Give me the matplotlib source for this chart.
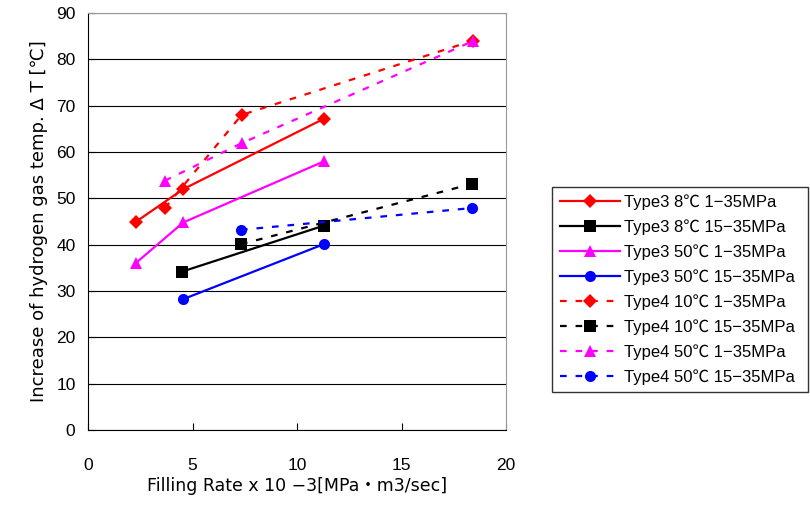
import matplotlib
matplotlib.use("Agg")
import matplotlib.pyplot as plt

plt.rcParams["font.family"] = ["Liberation Sans", "Noto Sans CJK JP", "DejaVu Sans"]

# Type3 series
t3_8_1_x = [2.28, 4.56, 11.3]
t3_8_1_y = [44.9, 52.0, 67.2]
t3_8_15_x = [4.51, 11.28]
t3_8_15_y = [34.2, 44.1]
t3_50_1_x = [2.28, 4.56, 11.3]
t3_50_1_y = [36.0, 44.8, 58.0]
t3_50_15_x = [4.53, 11.28]
t3_50_15_y = [28.2, 40.1]

# Type4 series
t4_10_1_x = [3.68, 7.35, 18.4]
t4_10_1_y = [47.9, 68.0, 84.0]
t4_10_15_x = [7.32, 18.36]
t4_10_15_y = [40.1, 53.1]
t4_50_1_x = [3.68, 7.35, 18.4]
t4_50_1_y = [53.8, 61.9, 83.9]
t4_50_15_x = [7.32, 18.36]
t4_50_15_y = [43.2, 47.9]

fig = plt.figure(figsize=(8.1, 5.05), dpi=100)
ax = fig.add_axes([88 / 810, 1 - 430 / 505, 418 / 810, 417 / 505])

dash = (0, (3, 4))
series = [
    (t3_8_1_x, t3_8_1_y, "#ff0000", "D", "-", "Type3 8℃ 1−35MPa", 7),
    (t3_8_15_x, t3_8_15_y, "#000000", "s", "-", "Type3 8℃ 15−35MPa", 8),
    (t3_50_1_x, t3_50_1_y, "#ff00ff", "^", "-", "Type3 50℃ 1−35MPa", 9),
    (t3_50_15_x, t3_50_15_y, "#0000ff", "o", "-", "Type3 50℃ 15−35MPa", 8),
    (t4_10_1_x, t4_10_1_y, "#ff0000", "D", dash, "Type4 10℃ 1−35MPa", 7),
    (t4_10_15_x, t4_10_15_y, "#000000", "s", dash, "Type4 10℃ 15−35MPa", 8),
    (t4_50_1_x, t4_50_1_y, "#ff00ff", "^", dash, "Type4 50℃ 1−35MPa", 9),
    (t4_50_15_x, t4_50_15_y, "#0000ff", "o", dash, "Type4 50℃ 15−35MPa", 8),
]
for x, y, c, m, ls, lab, ms in series:
    ax.plot(x, y, color=c, marker=m, linestyle=ls, linewidth=1.6,
            markersize=ms, markeredgewidth=0, label=lab, zorder=3)

ax.set_xlim(0, 20)
ax.set_ylim(0, 90)
ax.set_xticks([0, 5, 10, 15, 20])
ax.set_yticks(range(0, 91, 10))
ax.yaxis.grid(True, color="#000000", linewidth=0.8)
ax.set_axisbelow(True)
ax.tick_params(direction="in", length=5, labelsize=12.5)
ax.tick_params(axis="y", pad=9)
ax.tick_params(axis="x", pad=20)
for s in ("top", "right"):
    ax.spines[s].set_color("#999999")
for s in ("left", "bottom"):
    ax.spines[s].set_color("#000000")

lab_font = ["DejaVu Sans", "Noto Sans CJK JP"]
ax.set_xlabel("Filling Rate x 10 −3[MPa・m3/sec]", fontsize=12.5, labelpad=3,
              family=lab_font)
ax.set_ylabel("Increase of hydrogen gas temp. Δ T [℃]", fontsize=13,
              labelpad=6, family=lab_font)

leg = ax.legend(loc="center left", bbox_to_anchor=(552 / 810, 1 - 390 / 505,
                256 / 810, 201 / 505), bbox_transform=fig.transFigure,
                frameon=True, fancybox=False, edgecolor="#000000",
                fontsize=12, handlelength=3.6, labelspacing=0.56,
                borderaxespad=0, mode="expand", handletextpad=0.3,
                borderpad=0.45)
leg.get_frame().set_linewidth(1.0)

fig.savefig("out.png", dpi=100)
